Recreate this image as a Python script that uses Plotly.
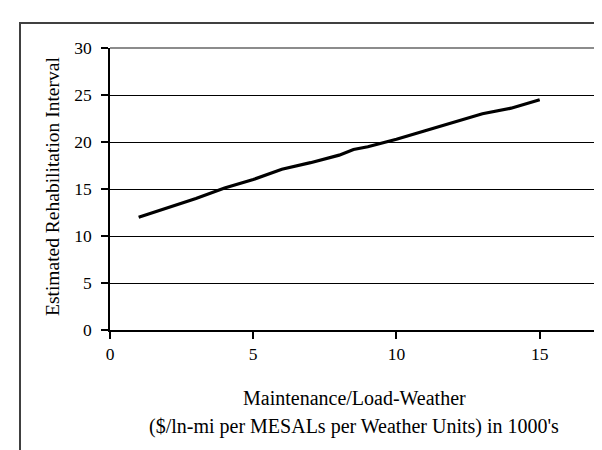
import plotly.graph_objects as go

# Data
x_values = [1, 2, 3, 4, 5, 6, 7, 8, 8.5, 9, 10, 11, 12, 13, 14, 15]
y_values = [12.0, 13.0, 14.0, 15.1, 16.0, 17.1, 17.8, 18.6, 19.2, 19.5, 20.3, 21.2, 22.1, 23.0, 23.6, 24.5]
x_ticks = [0, 5, 10, 15]
y_ticks = [0, 5, 10, 15, 20, 25, 30]
x_title_1 = "Maintenance/Load-Weather"
x_title_2 = "($/ln-mi per MESALs per Weather Units) in 1000's"
y_title = "Estimated Rehabilitation Interval"

W, H = 602, 450
L, R, T, B = 102, 589, 40, 322
pw, ph = R - L, B - T

def px(xp):
    return (xp - L) / pw

def py(yp):
    return (B - yp) / ph

FONT = "Liberation Serif, Times New Roman, serif"

fig = go.Figure()
fig.add_trace(go.Scatter(x=x_values, y=y_values, mode="lines",
                         line=dict(color="black", width=3.2), showlegend=False,
                         hoverinfo="skip"))

fig.update_layout(
    width=W, height=H,
    margin=dict(l=L, r=W - R, t=T, b=H - B),
    paper_bgcolor="white", plot_bgcolor="white",
    font=dict(family=FONT, size=17.5, color="black"),
    xaxis=dict(range=[0, 17], tickvals=x_ticks, ticks="outside", ticklen=7,
               tickcolor="black", tickwidth=1.5, showline=True, linecolor="black",
               linewidth=1.5, showgrid=False, zeroline=False,
               tickfont=dict(family=FONT, size=17.5), ticklabelstandoff=0),
    yaxis=dict(range=[0, 30], tickvals=y_ticks, ticks="outside", ticklen=7,
               tickcolor="black", tickwidth=1.5, showline=True, linecolor="black",
               linewidth=1.5, showgrid=True, gridcolor="black", gridwidth=1,
               zeroline=False, tickfont=dict(family=FONT, size=17.5),
               ticklabelstandoff=6),
)

# plot-area top/right border (gray)
fig.add_shape(type="line", xref="paper", yref="paper", x0=0, x1=1, y0=1, y1=1,
              line=dict(color="#8c8c8c", width=2))
fig.add_shape(type="line", xref="paper", yref="paper", x0=1, x1=1, y0=0, y1=1,
              line=dict(color="#8c8c8c", width=2))
# chart-area outer border
fig.add_shape(type="rect", xref="paper", yref="paper",
              x0=px(12), x1=px(640), y0=py(15), y1=py(500),
              line=dict(color="#404040", width=2), fillcolor="rgba(0,0,0,0)")

fig.add_annotation(text=x_title_1, xref="paper", yref="paper", x=px(346), y=py(390),
                   showarrow=False, font=dict(family=FONT, size=20),
                   xanchor="center", yanchor="middle")
fig.add_annotation(text=x_title_2, xref="paper", yref="paper", x=px(346), y=py(418),
                   showarrow=False, font=dict(family=FONT, size=20),
                   xanchor="center", yanchor="middle")
fig.add_annotation(text=y_title, xref="paper", yref="paper", x=px(44), y=py(179),
                   showarrow=False, textangle=-90, font=dict(family=FONT, size=19.5),
                   xanchor="center", yanchor="middle")

fig.write_html("out.html")
